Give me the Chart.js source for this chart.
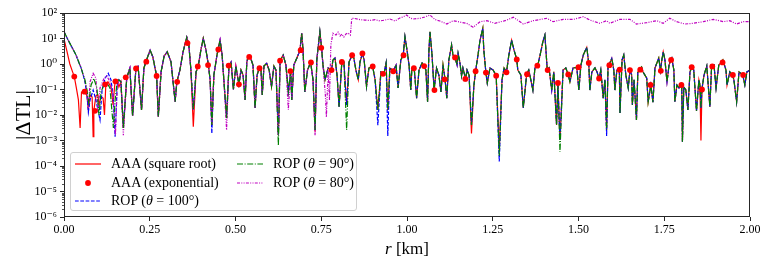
<!DOCTYPE html>
<html lang="en">
<head>
  <meta charset="UTF-8" />
  <title>|ΔTL| versus range</title>
  <script src="https://cdn.jsdelivr.net/npm/chart.js"></script>
  <style>
    body { margin: 0; background: #fff; }
    #wrap { position: relative; width: 770px; height: 268px; font-family: 'Liberation Serif', 'DejaVu Serif', serif; }
    #legend { position: absolute; left: 70px; top: 152px; width: 285px; height: 57px;
      border: 1px solid #d0d0d0; border-radius: 3px; background: rgba(255,255,255,0.85); }
    .item { position: absolute; height: 18px; display: flex; align-items: center; font-size: 14px; color: #000; white-space: nowrap; }
    .item svg { width: 26px; height: 8px; margin-right: 10px; }
    #xtitle { position: absolute; left: 307px; width: 200px; top: 239px; text-align: center; font-size: 17px; }
  </style>
</head>
<body>
<div id="wrap">
  <canvas id="tlChart" width="770" height="268"></canvas>
  <div id="legend">
    <div class="item" style="left:4px;top:2px"><svg><line x1="0" y1="4" x2="26" y2="4" stroke="#ff0000" stroke-width="1.2"/></svg>AAA (square root)</div>
    <div class="item" style="left:4px;top:21px"><svg><circle cx="13" cy="4" r="2.9" fill="#ff0000"/></svg>AAA (exponential)</div>
    <div class="item" style="left:4px;top:39px"><svg><line x1="0" y1="4" x2="26" y2="4" stroke="#0000ff" stroke-width="1.2" stroke-dasharray="3.7 1.6"/></svg>ROP (<i>θ</i>&nbsp;=&nbsp;100°)</div>
    <div class="item" style="left:166px;top:2px"><svg><line x1="0" y1="4" x2="26" y2="4" stroke="#008000" stroke-width="1.2" stroke-dasharray="6 1.6 1 1.6"/></svg>ROP (<i>θ</i>&nbsp;=&nbsp;90°)</div>
    <div class="item" style="left:166px;top:21px"><svg><line x1="0" y1="4" x2="26" y2="4" stroke="#bf00bf" stroke-width="1.2" stroke-dasharray="3 1.3 1 1.3 1 1.3"/></svg>ROP (<i>θ</i>&nbsp;=&nbsp;80°)</div>
  </div>
  <div id="xtitle"><i>r</i> [km]</div>
</div>

<script>
// axis ticks
const xTickValues = [0, 0.25, 0.5, 0.75, 1.0, 1.25, 1.5, 1.75, 2.0];
const xTickLabels = ['0.00', '0.25', '0.50', '0.75', '1.00', '1.25', '1.50', '1.75', '2.00'];
const yTickValues = [1e-6, 1e-5, 1e-4, 1e-3, 1e-2, 1e-1, 1e0, 1e1, 1e2];
const yTickLabels = ['10⁻⁶', '10⁻⁵', '10⁻⁴', '10⁻³', '10⁻²', '10⁻¹', '10⁰', '10¹', '10²'];

// [r (km), |dTL|], near field, each series
const redEarly = [[0,9.6],[0.009,2.96],[0.017,1.0],[0.025,0.49],[0.030,0.32],[0.036,0.115],[0.042,0.039],[0.047,0.0031],
  [0.051,0.08],[0.061,0.082],[0.067,0.056],[0.071,0.0157],[0.076,0.061],[0.082,0.051],[0.085,0.0014],[0.087,0.0148],
  [0.093,0.056],[0.099,0.061],[0.102,0.025],[0.108,0.051],[0.114,0.046],[0.118,0.01],[0.122,0.16],[0.128,0.20],
  [0.137,0.125],[0.143,0.025],[0.149,0.22],[0.155,0.24],[0.160,0.125]];
const blueEarly = [[0,18.5],[0.012,8.7],[0.023,4.6],[0.035,2.25],[0.044,1.09],[0.050,0.70],[0.055,0.41],[0.061,0.20],
  [0.067,0.061],[0.071,0.0131],[0.076,0.039],[0.085,0.095],[0.093,0.039],[0.099,0.0157],[0.105,0.0064],[0.111,0.095],
  [0.120,0.28],[0.129,0.43],[0.137,0.24],[0.143,0.061],[0.149,0.0014],[0.155,0.15],[0.160,0.24]];
const greenEarly = [[0,18.5],[0.012,8.7],[0.023,4.6],[0.035,2.25],[0.044,1.09],[0.050,0.70],[0.055,0.41],[0.061,0.24],
  [0.067,0.095],[0.072,0.030],[0.079,0.15],[0.087,0.27],[0.096,0.115],[0.102,0.01],[0.108,0.08],[0.117,0.16],
  [0.125,0.18],[0.134,0.115],[0.144,0.0031],[0.149,0.039],[0.155,0.20],[0.160,0.24]];
const purpleEarly = [[0,18.5],[0.012,8.7],[0.023,4.6],[0.035,2.25],[0.044,1.09],[0.050,0.70],[0.055,0.41],[0.061,0.24],
  [0.067,0.08],[0.071,0.019],[0.076,0.20],[0.085,0.43],[0.093,0.28],[0.099,0.0131],[0.105,0.115],[0.117,0.28],
  [0.125,0.34],[0.134,0.20],[0.143,0.061],[0.150,0.0016],[0.155,0.115],[0.160,0.24]];

// common curve from 0.166 km on, where the solutions lie on top of each other
const sharedCurve = [[0.166,0.20],[0.173,0.0031],[0.183,0.29],[0.192,0.68],[0.200,0.0091],[0.210,0.76],[0.216,0.83],
  [0.226,0.0157],[0.233,0.70],[0.239,1.23],[0.251,3.5],[0.259,1.88],[0.270,0.34],[0.275,0.0086],[0.283,0.49],
  [0.292,2.06],[0.301,3.0],[0.312,1.2],[0.324,0.033],[0.329,0.20],[0.338,0.58],[0.347,2.96],[0.358,11.1],[0.364,5.6],
  [0.370,0.58],[0.377,0.016],[0.385,0.49],[0.391,0.78],[0.399,3.5],[0.406,10.2],[0.414,3.5],[0.421,0.91],[0.426,0.24],
  [0.431,0.0041],[0.437,0.37],[0.446,2.25],[0.455,8.7],[0.461,2.25],[0.466,0.24],[0.474,0.0076],[0.481,0.86],
  [0.487,1.2],[0.494,0.10],[0.501,0.83],[0.510,0.16],[0.516,0.58],[0.522,0.37],[0.528,0.039],[0.533,1.2],[0.537,1.93],
  [0.542,2.06],[0.551,0.91],[0.557,0.019],[0.563,0.37],[0.569,0.68],[0.574,0.70],[0.578,0.061],[0.583,0.83],
  [0.591,1.06],[0.598,0.58],[0.605,0.13],[0.612,0.83],[0.618,0.58],[0.625,0.0016],[0.630,1.35],[0.639,2.25],
  [0.647,0.91],[0.654,0.082],[0.661,0.53],[0.664,0.039],[0.670,0.91],[0.679,1.72],[0.688,3.5],[0.693,16],[0.697,3.5],
  [0.702,0.08],[0.710,0.58],[0.719,1.17],[0.726,0.24],[0.732,0.0026],[0.737,1.44],[0.746,18.5],[0.751,4.2],[0.755,0.91],
  [0.761,0.24],[0.770,0.70],[0.780,0.58],[0.784,1.44],[0.790,1.72],[0.796,0.37],[0.802,0.021],[0.810,1.23],[0.816,1.2],
  [0.824,0.025],[0.831,1.2],[0.840,2.2],[0.845,1.72],[0.851,0.58],[0.858,0.24],[0.863,1.2],[0.870,2.6],[0.875,1.44],
  [0.882,0.13],[0.889,0.70],[0.900,0.78],[0.907,0.24],[0.915,0.0157],[0.924,0.49],[0.933,0.43],[0.939,1.09],
  [0.944,0.0157],[0.950,0.70],[0.960,0.53],[0.968,0.91],[0.974,0.115],[0.982,1.44],[0.989,2.25],[0.994,11.8],
  [1.000,3.5],[1.006,0.91],[1.011,0.095],[1.014,0.58],[1.021,0.68],[1.028,0.046],[1.035,0.58],[1.044,1.09],[1.049,0.83],
  [1.055,0.58],[1.060,0.033],[1.064,3.5],[1.067,18.5],[1.073,2.25],[1.079,0.095],[1.086,0.70],[1.093,0.37],[1.099,0.08],
  [1.105,0.91],[1.111,0.25],[1.116,0.046],[1.122,1.44],[1.130,5.6],[1.134,2.25],[1.140,1.83],[1.146,0.91],[1.149,2.6],
  [1.154,1.2],[1.159,0.34],[1.163,0.70],[1.171,0.26],[1.175,0.58],[1.181,0.37],[1.188,0.0041],[1.195,0.14],[1.200,0.53],
  [1.207,2.25],[1.213,8.7],[1.221,25],[1.224,3.5],[1.230,0.46],[1.234,0.18],[1.242,0.70],[1.251,0.58],[1.260,0.35],
  [1.269,0.00042],[1.277,0.24],[1.283,0.70],[1.290,0.47],[1.297,2.25],[1.305,8.7],[1.312,3.5],[1.320,1.53],[1.323,0.58],
  [1.332,0.37],[1.339,0.019],[1.349,0.41],[1.355,0.58],[1.361,0.24],[1.367,0.095],[1.373,0.70],[1.381,0.86],[1.388,2.25],
  [1.396,7.3],[1.402,13.7],[1.409,0.58],[1.414,0.70],[1.422,0.095],[1.428,0.49],[1.436,0.0041],[1.440,0.175],
  [1.446,0.00105],[1.455,0.58],[1.463,0.70],[1.470,0.39],[1.475,0.20],[1.484,0.70],[1.495,0.74],[1.501,0.095],
  [1.507,0.91],[1.514,2.25],[1.524,4.5],[1.530,1.06],[1.533,0.095],[1.539,0.49],[1.548,0.70],[1.554,0.49],[1.560,0.27],
  [1.565,0.58],[1.572,0.046],[1.577,0.24],[1.582,0.0026],[1.586,0.70],[1.589,0.91],[1.597,1.67],[1.603,0.58],
  [1.606,0.095],[1.612,0.58],[1.619,0.64],[1.621,0.012],[1.627,1.44],[1.632,2.25],[1.638,0.37],[1.645,0.115],[1.650,0.58],
  [1.655,0.37],[1.657,0.025],[1.662,0.24],[1.669,0.0064],[1.673,0.49],[1.679,0.64],[1.684,0.76],[1.688,0.49],[1.699,0.28],
  [1.703,0.032],[1.711,0.15],[1.717,0.032],[1.723,0.70],[1.734,1.72],[1.739,0.55],[1.743,1.44],[1.747,3.0],[1.752,1.44],
  [1.758,0.20],[1.764,0.91],[1.769,1.44],[1.772,1.72],[1.778,0.58],[1.781,0.033],[1.787,0.15],[1.793,0.115],[1.801,0.15],
  [1.803,0.0009],[1.807,0.125],[1.813,0.095],[1.819,0.0157],[1.825,0.49],[1.830,0.74],[1.836,0.58],[1.844,0.0144],
  [1.851,0.24],[1.854,0.15],[1.857,0.019],[1.860,0.105],[1.866,0.37],[1.874,0.83],[1.883,0.021],[1.888,0.78],[1.895,0.91],
  [1.901,0.115],[1.909,0.91],[1.917,1.17],[1.921,1.44],[1.930,0.58],[1.933,0.15],[1.941,0.49],[1.949,0.37],[1.953,0.24],
  [1.961,0.033],[1.968,0.49],[1.979,0.37],[1.985,0.15],[1.991,0.49],[2.000,0.58]];

// deeper nulls that only one series shows
const redNulls = [[0.377,0.0035],[0.732,0.0022],[1.188,0.0019],[1.857,0.001]];
const blueNulls = [[0.431,0.0019],[0.915,0.004],[0.944,0.0015],[1.269,0.00015],[1.582,0.0015]];
const greenNulls = [[0.625,0.00065],[0.824,0.0026],[1.269,0.00025],[1.446,0.00036]];
const purpleNulls = [[0.173,0.0016],[0.474,0.0026],[0.654,0.016],[0.732,0.0016]];
const purpleSplit = 0.755;
// theta = 80 deg leaves the others past ~0.76 km
const purpleTail = [[0.762,0.061],[0.765,0.0084],[0.770,0.58],[0.774,0.039],[0.778,5.6],[0.784,16],[0.793,13.7],
  [0.799,17.9],[0.805,12.5],[0.810,15],[0.816,11.4],[0.822,15],[0.828,16.4],[0.835,13.7],[0.839,62],[0.848,61],
  [0.863,55],[0.877,53],[0.892,51],[0.907,55],[0.921,48.6],[0.936,53],[0.950,58],[0.965,48.6],[0.979,63.6],[0.988,69.7],
  [0.999,83.5],[1.009,63.6],[1.018,58],[1.038,62],[1.052,69.7],[1.067,83.5],[1.082,55],[1.096,48.6],[1.116,37],
  [1.135,49.9],[1.154,44],[1.174,39.4],[1.193,27.5],[1.213,45.6],[1.233,49.9],[1.256,39.4],[1.286,49.9],[1.310,67.9],
  [1.339,37],[1.368,49.9],[1.407,62],[1.426,45.6],[1.456,56.6],[1.486,56.6],[1.514,71.6],[1.533,53],[1.562,39.4],
  [1.582,49.9],[1.591,39.4],[1.621,56.6],[1.650,56.6],[1.669,37],[1.699,41.7],[1.728,49.9],[1.747,39.4],[1.766,62],
  [1.786,45.6],[1.810,37],[1.834,39.4],[1.864,45.6],[1.893,56.6],[1.922,45.6],[1.941,49.9],[1.961,37],[1.980,45.6],
  [2.000,45.6]];

// AAA exponential, one marker every 0.03 km
const expDots = [[0.03,0.32],[0.06,0.082],[0.09,0.0146],[0.12,0.16],[0.15,0.21],[0.18,0.30],[0.21,0.67],[0.24,1.23],
  [0.27,0.34],[0.33,0.20],[0.36,6.6],[0.39,0.8],[0.42,0.91],[0.45,3.7],[0.48,0.87],[0.51,0.16],[0.54,1.9],[0.57,0.68],
  [0.63,1.35],[0.66,0.53],[0.69,3.5],[0.72,1.15],[0.75,4.3],[0.78,0.58],[0.81,1.2],[0.84,2.2],[0.87,2.6],[0.90,0.8],
  [0.93,0.41],[0.96,0.52],[0.99,2.2],[1.02,0.68],[1.05,0.83],[1.08,0.095],[1.11,0.25],[1.14,1.8],[1.17,0.26],[1.20,0.52],
  [1.23,0.46],[1.26,0.35],[1.29,0.47],[1.32,1.5],[1.35,0.4],[1.38,0.86],[1.41,0.58],[1.44,0.18],[1.47,0.39],[1.50,0.75],
  [1.53,1.1],[1.56,0.27],[1.59,0.9],[1.62,0.6],[1.65,0.58],[1.68,0.6],[1.71,0.15],[1.74,0.54],[1.77,1.45],[1.80,0.15],
  [1.83,0.75],[1.86,0.1],[1.89,0.8],[1.92,1.15],[1.95,0.37],[1.98,0.37]];

function withNulls(base, nulls) {
  const deep = new Map(nulls);
  return base.map(p => deep.has(p[0]) ? [p[0], deep.get(p[0])] : p);
}
const toXY = pts => pts.map(p => ({ x: p[0], y: p[1] }));

const redLine = redEarly.concat(withNulls(sharedCurve, redNulls));
const blueLine = blueEarly.concat(withNulls(sharedCurve, blueNulls));
const greenLine = greenEarly.concat(withNulls(sharedCurve, greenNulls));
const purpleLine = purpleEarly
  .concat(withNulls(sharedCurve.filter(p => p[0] <= purpleSplit), purpleNulls))
  .concat(purpleTail);

const serif = "'Liberation Serif', 'DejaVu Serif', serif";

// frame on all four sides plus log minor ticks
const framePlugin = {
  id: 'frame',
  afterDraw(chart) {
    const { ctx, chartArea: a, scales: { y } } = chart;
    ctx.save();
    ctx.strokeStyle = '#262626';
    ctx.lineWidth = 0.8;
    ctx.beginPath();
    for (let e = -6; e < 2; e++) {
      for (let m = 2; m < 10; m++) {
        const py = Math.round(y.getPixelForValue(m * Math.pow(10, e))) + 0.5;
        ctx.moveTo(a.left - 2, py);
        ctx.lineTo(a.left, py);
      }
    }
    ctx.stroke();
    ctx.lineWidth = 1;
    ctx.strokeRect(Math.round(a.left) + 0.5, Math.round(a.top) + 0.5,
      Math.round(a.right - a.left) - 1, Math.round(a.bottom - a.top) - 1);
    ctx.restore();
  }
};

const lineStyle = { pointRadius: 0, borderWidth: 1.2, tension: 0, fill: false };

new Chart(document.getElementById('tlChart'), {
  type: 'line',
  data: {
    datasets: [
      { label: 'AAA (exponential)', data: toXY(expDots), showLine: false, pointRadius: 2.9,
        pointBackgroundColor: '#ff0000', pointBorderWidth: 0, borderColor: '#ff0000' },
      { label: 'ROP (θ = 90°)', data: toXY(greenLine), borderColor: '#008000', borderDash: [6, 1.6, 1, 1.6], ...lineStyle },
      { label: 'ROP (θ = 80°)', data: toXY(purpleLine), borderColor: '#bf00bf', borderDash: [3, 1.3, 1, 1.3, 1, 1.3], ...lineStyle },
      { label: 'ROP (θ = 100°)', data: toXY(blueLine), borderColor: '#0000ff', borderDash: [3.7, 1.6], ...lineStyle },
      { label: 'AAA (square root)', data: toXY(redLine), borderColor: '#ff0000', ...lineStyle }
    ]
  },
  options: {
    responsive: false,
    animation: false,
    layout: { padding: { top: 13, right: 20, bottom: 0, left: 0 } },
    plugins: { legend: { display: false }, tooltip: { enabled: false } },
    scales: {
      x: {
        type: 'linear', min: 0, max: 2,
        afterBuildTicks: s => { s.ticks = xTickValues.map(v => ({ value: v })); },
        afterFit: s => { s.height = 51; },
        grid: { drawOnChartArea: false, tickLength: 4, tickColor: '#262626' },
        border: { display: false },
        ticks: { autoSkip: false, maxRotation: 0, padding: 2, color: '#000',
          font: { family: serif, size: 12 },
          callback: (v, i) => xTickLabels[i] }
      },
      y: {
        type: 'logarithmic', min: 1e-6, max: 1e2,
        afterBuildTicks: s => { s.ticks = yTickValues.map(v => ({ value: v })); },
        afterFit: s => { s.width = 64; },
        grid: { drawOnChartArea: false, tickLength: 4, tickColor: '#262626' },
        border: { display: false },
        ticks: { autoSkip: false, padding: 3, color: '#000',
          font: { family: serif, size: 12 },
          callback: (v, i) => yTickLabels[i] },
        title: { display: true, text: '|ΔTL|', color: '#000',
          font: { family: serif, size: 22 }, padding: { top: 11, bottom: 0 } }
      }
    }
  },
  plugins: [framePlugin]
});
</script>
</body>
</html>
